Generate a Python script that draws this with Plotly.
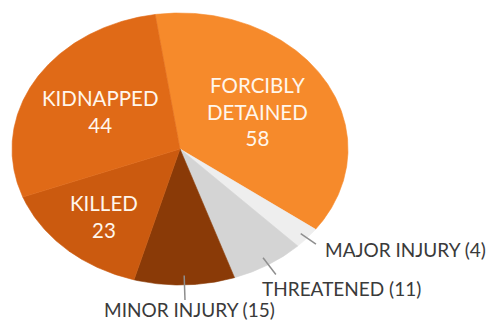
import numpy as np
import plotly.graph_objects as go

# ---- data ----
labels = ["FORCIBLY DETAINED", "MAJOR INJURY", "THREATENED", "MINOR INJURY", "KILLED", "KIDNAPPED"]
values = [58, 4, 11, 15, 23, 44]
colors = ["#F68A2B", "#EEEEEE", "#D4D4D4", "#8A3A07", "#CB5A0F", "#E06A17"]
inside_text = ["FORCIBLY<br>DETAINED<br>58", None, None, None, "KILLED<br>23", "KIDNAPPED<br>44"]
outside_text = [None, "MAJOR INJURY (4)", "THREATENED (11)", "MINOR INJURY (15)", None, None]

# ---- geometry / style (pixel space, y downward) ----
W, H = 487, 323
CX, CY, RX, RY = 180, 149, 168, 136
START = -8.5  # degrees clockwise from 12 o'clock
inside_r = {0: 0.54, 4: 0.67, 5: 0.55}
lead_r0, lead_r1 = {1: 0.95, 2: 0.94, 3: 0.93}, {1: 1.07, 2: 1.085, 3: 1.11}
out_pos = {1: dict(xanchor="left", yanchor="middle", xshift=7, yshift=-5),
           2: dict(xanchor="left", yanchor="middle", xshift=-16, yshift=-14),
           3: dict(xanchor="center", yanchor="middle", xshift=5, yshift=-10)}
FONT = "Lato"


def pt(deg, r):
    t = np.deg2rad(deg)
    return CX + RX * r * np.sin(t), CY - RY * r * np.cos(t)


fig = go.Figure()
total = sum(values)
a0 = START
annotations = []
for i, v in enumerate(values):
    span = v / total * 360.0
    a1 = a0 + span
    ts = np.linspace(a0, a1, max(int(span * 2), 8))
    xs, ys = pt(ts, 1.0)
    xs = np.concatenate([[CX], xs, [CX]])
    ys = np.concatenate([[CY], ys, [CY]])
    fig.add_trace(go.Scatter(x=xs, y=ys, mode="lines", fill="toself",
                             fillcolor=colors[i], line=dict(width=0.6, color=colors[i]),
                             hoverinfo="skip", showlegend=False))
    mid = (a0 + a1) / 2
    if inside_text[i]:
        x, y = pt(mid, inside_r[i])
        annotations.append(dict(x=x, y=y, text=inside_text[i], showarrow=False,
                                font=dict(family=FONT, size=20.5, color="#FFF6EC"),
                                xanchor="center", yanchor="middle"))
    if outside_text[i]:
        x0, y0 = pt(mid, lead_r0[i])
        x1, y1 = pt(mid, lead_r1[i])
        fig.add_trace(go.Scatter(x=[x0, x1], y=[y0, y1], mode="lines",
                                 line=dict(color="#8E8E8E", width=1.5),
                                 hoverinfo="skip", showlegend=False))
        annotations.append(dict(x=x1, y=y1, text=outside_text[i], showarrow=False,
                                font=dict(family=FONT, size=19, color="#3A3A3A"),
                                **out_pos[i]))
    a0 = a1

fig.update_layout(width=W, height=H, margin=dict(l=0, r=0, t=0, b=0),
                  paper_bgcolor="white", plot_bgcolor="white",
                  xaxis=dict(range=[0, W], visible=False, fixedrange=True),
                  yaxis=dict(range=[H, 0], visible=False, fixedrange=True),
                  annotations=annotations)
fig.write_html("out.html")
